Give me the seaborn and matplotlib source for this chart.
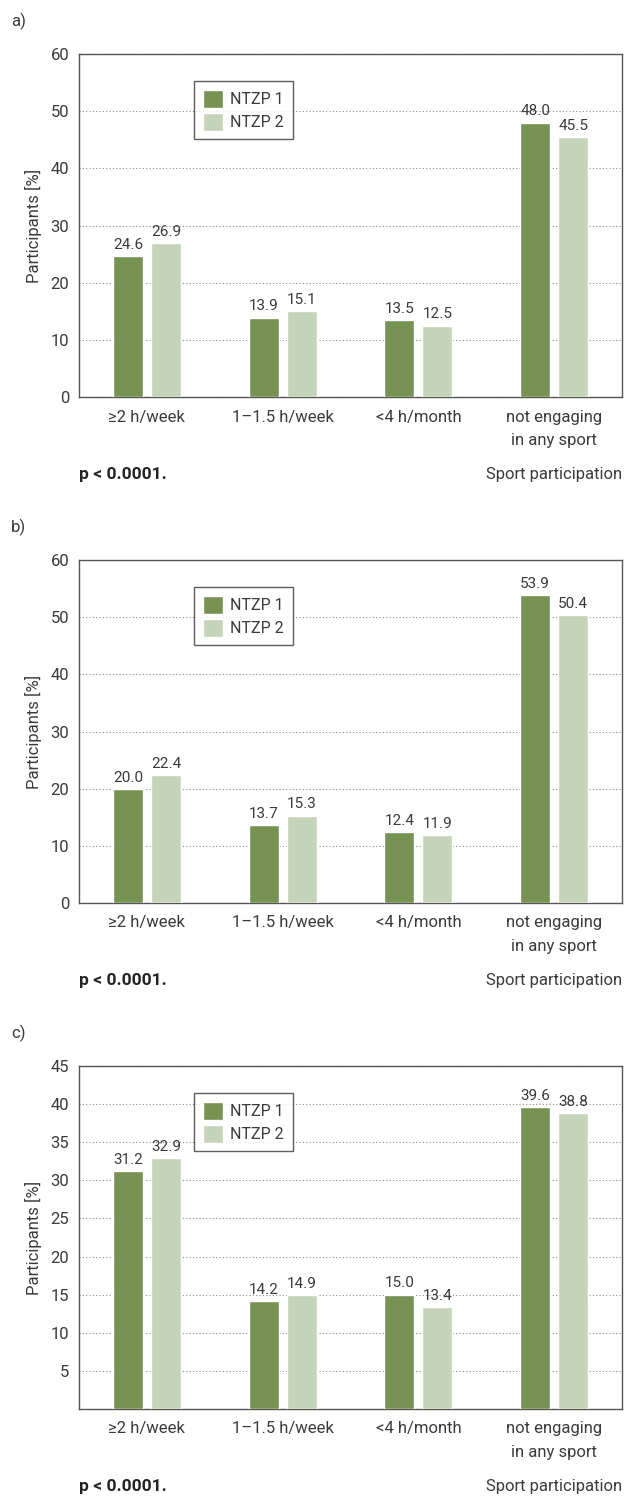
import matplotlib
matplotlib.use("Agg")
import matplotlib.pyplot as plt
import seaborn as sns
import pandas as pd

# data
categories = ["\u22652 h/week", "1\u20131.5 h/week", "<4 h/month", "not engaging\nin any sport"]
groups = ["NTZP 1", "NTZP 2"]
a_ntzp1 = [24.6, 13.9, 13.5, 48.0]
a_ntzp2 = [26.9, 15.1, 12.5, 45.5]
b_ntzp1 = [20.0, 13.7, 12.4, 53.9]
b_ntzp2 = [22.4, 15.3, 11.9, 50.4]
c_ntzp1 = [31.2, 14.2, 15.0, 39.6]
c_ntzp2 = [32.9, 14.9, 13.4, 38.8]
panel_names = ["a)", "b)", "c)"]
y_max = [60, 60, 45]
y_step = [10, 10, 5]

sns.set_theme(style="white")
plt.rcParams["font.family"] = ["Roboto", "DejaVu Sans"]

dark = "#7a9c4a"
light = "#c5d9b4"
txt = "#3a3a3a"

fig = plt.figure(figsize=(6.25, 14.97), dpi=100)
bottoms = [0.7348, 0.3968, 0.0588]
panels = [(a_ntzp1, a_ntzp2), (b_ntzp1, b_ntzp2), (c_ntzp1, c_ntzp2)]

for k, (v1, v2) in enumerate(panels):
    df = pd.DataFrame({
        "cat": categories * 2,
        "grp": [groups[0]] * 4 + [groups[1]] * 4,
        "val": v1 + v2,
    })
    ax = fig.add_axes([0.1264, bottoms[k], 0.8688, 0.2291])
    sns.barplot(data=df, x="cat", y="val", hue="grp", palette=[dark, light],
                width=0.56, gap=0.21, ax=ax, zorder=3)
    ax.set_ylim(0, y_max[k])
    ax.set_xlim(-0.5, 3.5)
    ticks = list(range(0 if k < 2 else y_step[k], y_max[k] + 1, y_step[k]))
    ax.set_yticks(ticks)
    ax.yaxis.grid(True, linestyle=(0, (1, 2)), color="#888888", linewidth=0.8)
    ax.set_axisbelow(True)
    ax.tick_params(axis="both", length=0, labelsize=12, colors=txt, pad=7)
    ax.tick_params(axis="x", pad=9)
    for lab in ax.get_xticklabels():
        lab.set_linespacing(1.7)
    for s in ax.spines.values():
        s.set_color("#555555")
        s.set_linewidth(1.0)
    ax.set_xlabel("")
    ax.set_ylabel("Participants [%]", fontsize=12, color=txt, labelpad=6)
    for cont in ax.containers:
        ax.bar_label(cont, fmt="%.1f", padding=3, fontsize=11, color=txt)
    leg = ax.legend(loc="upper left", bbox_to_anchor=(0.212, 0.921), frameon=True,
                    fancybox=False, edgecolor="#333333", fontsize=11.5,
                    handlelength=1.25, handleheight=1.35, handletextpad=0.45,
                    labelspacing=0.3, borderpad=0.55, borderaxespad=0,
                    labelcolor=txt)
    leg.get_frame().set_linewidth(1.0)
    ax.text(-0.125, 1.095, panel_names[k], transform=ax.transAxes, fontsize=12,
            color=txt, ha="left", va="center")
    ax.text(0.0, -0.227, "p < 0.0001.", transform=ax.transAxes, fontsize=12.5,
            fontweight="semibold", color="#222222", ha="left", va="center")
    ax.text(1.0, -0.227, "Sport participation", transform=ax.transAxes,
            fontsize=12, color=txt, ha="right", va="center")

fig.savefig("out.png", dpi=100)
